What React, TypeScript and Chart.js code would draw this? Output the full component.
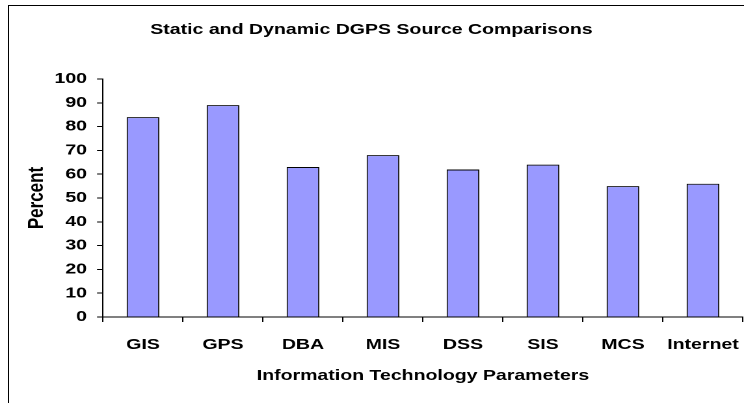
import React, { useEffect, useRef } from "react";
import { Chart, registerables } from "chart.js";

Chart.register(...registerables);

const categories = ["GIS", "GPS", "DBA", "MIS", "DSS", "SIS", "MCS", "Internet"];
const percentValues = [84, 89, 63, 68, 62, 64, 55, 56];
const yTickValues = [0, 10, 20, 30, 40, 50, 60, 70, 80, 90, 100];

const FONT = "'Liberation Sans', Arial, sans-serif";
const FS = 15;
// The reference picture is horizontally stretched; draw on a narrower logical
// canvas and let CSS stretch it to the full 744px width.
const PAGE_W = 744;
const PAGE_H = 403;
const LOGICAL_W = 572;

export default function App() {
  const ref = useRef<HTMLCanvasElement | null>(null);

  useEffect(() => {
    if (!ref.current) return;
    const chart = new Chart(ref.current, {
      type: "bar",
      data: {
        labels: categories,
        datasets: [
          {
            data: percentValues,
            backgroundColor: "#9999FF",
            borderColor: "#000000",
            borderWidth: 1,
            barPercentage: 0.41,
            categoryPercentage: 1,
          },
        ],
      },
      options: {
        animation: false,
        responsive: false,
        maintainAspectRatio: false,
        devicePixelRatio: 2,
        layout: { padding: { left: 0, right: 0.8, top: 0, bottom: 0 } },
        plugins: {
          legend: { display: false },
          tooltip: { enabled: false },
          title: {
            display: true,
            text: "Static and Dynamic DGPS Source Comparisons",
            color: "#000",
            font: { family: FONT, size: FS, weight: "bold", lineHeight: 1.2 },
            padding: { top: 21, bottom: 40 },
          },
        },
        scales: {
          x: {
            offset: true,
            afterFit: (s: any) => {
              s.height = 86;
              s.paddingLeft = 0;
              s.paddingRight = 0;
            },
            grid: {
              offset: true,
              drawOnChartArea: false,
              drawTicks: true,
              tickLength: 5,
              color: "#000",
            },
            border: { color: "#000", width: 1 },
            ticks: {
              color: "#000",
              padding: 14,
              maxRotation: 0,
              autoSkip: false,
              font: { family: FONT, size: FS, weight: "bold" },
            },
            title: {
              display: true,
              text: "Information Technology Parameters",
              color: "#000",
              font: { family: FONT, size: FS, weight: "bold", lineHeight: 1.2 },
              padding: { top: 0, bottom: 18 },
            },
          },
          y: {
            min: 0,
            max: 100,
            afterFit: (s: any) => {
              s.width = 79.2;
            },
            afterBuildTicks: (s: any) => {
              s.ticks = yTickValues.map((v) => ({ value: v }));
            },
            grid: {
              drawOnChartArea: false,
              drawTicks: true,
              tickLength: 4.6,
              color: "#000",
            },
            border: { color: "#000", width: 1 },
            ticks: {
              color: "#000",
              padding: 7.7,
              font: { family: FONT, size: FS, weight: "bold" },
            },
            title: {
              display: true,
              text: "Percent",
              color: "#000",
              font: { family: FONT, size: 17, weight: "bold", lineHeight: 1.2 },
              padding: { top: 18.3, bottom: 0 },
            },
          },
        },
      },
    });
    return () => chart.destroy();
  }, []);

  return (
    <div style={{ position: "fixed", left: 0, top: 0, width: PAGE_W, height: PAGE_H, background: "#fff", overflow: "hidden" }}>
      <div
        style={{
          position: "absolute",
          left: 8,
          top: 5,
          width: PAGE_W,
          height: PAGE_H + 10,
          borderLeft: "1px solid #000",
          borderTop: "1px solid #000",
        }}
      />
      <canvas
        ref={ref}
        width={LOGICAL_W}
        height={PAGE_H}
        style={{ position: "absolute", left: 0, top: 0, width: PAGE_W + "px", height: PAGE_H + "px" }}
      />
    </div>
  );
}
